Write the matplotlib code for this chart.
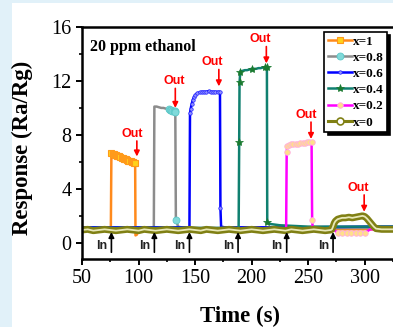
import matplotlib.pyplot as plt
from matplotlib.patches import Rectangle

# ---- data ----
t_x1 = [50, 60, 70, 75.5, 76, 77, 78, 79, 80, 81, 82, 83, 84, 85, 86, 87, 88, 89, 90, 91, 92, 93, 94, 95, 96, 97,
        97.3, 98.5, 100, 120, 160, 200, 250, 300, 325]
r_x1 = [1.0, 1.0, 1.0, 1.0, 6.65, 6.6, 6.55, 6.5, 6.5, 6.45, 6.4, 6.4, 6.35, 6.3, 6.3, 6.25, 6.2, 6.2, 6.15, 6.1, 6.1,
        6.05, 6.0, 6.0, 5.95, 5.9, 0.55, 0.6, 1.0, 1.0, 1.0, 1.0, 1.0, 1.0, 1.0]

t_x08 = [50, 100, 113.5, 114, 116, 118, 120, 122, 124, 126, 127, 128, 129, 130, 131, 132, 132.5, 133, 135, 140, 200,
         250, 300, 325]
r_x08 = [1.1, 1.1, 1.1, 10.1, 10.1, 10.05, 10.0, 10.0, 9.95, 9.9, 9.9, 9.85, 9.85, 9.8, 9.8, 9.75, 9.7, 1.7, 1.2, 1.1,
         1.1, 1.1, 1.1, 1.1]

t_x06 = [50, 100, 145, 145.5, 146, 147, 148, 149, 150, 152, 154, 156, 158, 160, 162, 164, 166, 168, 170, 172, 172.4,
         173, 176, 200, 250, 300, 325]
r_x06 = [1.15, 1.15, 1.15, 9.6, 9.9, 10.3, 10.6, 10.8, 10.95, 11.1, 11.15, 11.2, 11.2, 11.2, 11.25, 11.2, 11.2, 11.2,
         11.2, 11.2, 2.6, 1.2, 1.15, 1.15, 1.15, 1.2, 1.2]

t_x04 = [50, 150, 188.5, 189, 189.3, 190, 192, 194, 196, 198, 200, 202, 204, 206, 208, 210, 212, 213.5, 213.8, 216,
         225, 250, 300, 325]
r_x04 = [1.1, 1.1, 1.1, 7.5, 11.9, 12.7, 12.75, 12.8, 12.8, 12.85, 12.9, 12.9, 12.9, 12.95, 12.95, 13.0, 13.0, 13.05,
         1.55, 1.4, 1.3, 1.2, 1.2, 1.2]

t_x02 = [50, 150, 230.5, 231, 231.5, 233, 235, 237, 239, 241, 243, 245, 247, 249, 251, 253, 253.5, 254, 257, 272,
         276, 280, 284, 288, 292, 296, 300, 305, 325]
r_x02 = [1.0, 1.0, 1.0, 6.7, 7.2, 7.25, 7.3, 7.3, 7.35, 7.35, 7.4, 7.4, 7.4, 7.45, 7.45, 7.5, 1.7, 1.1, 1.0, 1.0,
         0.75, 0.7, 0.75, 0.7, 0.75, 0.7, 0.75, 1.0, 1.0]

t_x0 = [50, 55, 60, 65, 70, 75, 80, 85, 90, 95, 100, 105, 110, 115, 120, 125, 130, 135, 140, 145, 150, 155, 160, 165,
        170, 175, 180, 185, 190, 195, 200, 205, 210, 215, 220, 225, 230, 235, 240, 245, 250, 255, 260, 265, 270, 271,
        272, 273, 274, 276, 278, 280, 283, 286, 289, 292, 295, 298, 300, 302, 304, 306, 308, 310, 315, 320, 325]
r_x0 = [0.95, 1.0, 0.9, 0.95, 1.0, 0.95, 0.9, 0.95, 1.0, 0.95, 0.9, 1.0, 0.95, 0.9, 0.95, 1.0, 0.95, 0.9, 0.95, 1.0,
        0.95, 0.9, 1.0, 0.95, 0.9, 0.95, 1.0, 0.95, 0.9, 0.95, 1.0, 0.95, 0.9, 0.95, 1.0, 0.95, 0.9, 1.0, 0.95, 0.9,
        0.95, 1.0, 0.95, 0.9, 0.95, 1.0, 1.2, 1.45, 1.6, 1.75, 1.8, 1.85, 1.85, 1.9, 1.85, 1.9, 1.95, 2.0, 1.95, 1.8,
        1.6, 1.4, 1.2, 1.05, 1.0, 1.0, 1.0]

labels = ["x=1", "x=0.8", "x=0.6", "x=0.4", "x=0.2", "x=0"]

in_x = [76, 114, 145, 188, 231, 272]
out_arrow_x = [98.5, 132.5, 171, 213, 252.5, 299.5]
out_tip_y = [6.4, 10.0, 11.6, 13.3, 7.7, 2.3]
out_text_x = [94.5, 131.5, 165, 208, 248, 294]
out_text_y = [8.1, 12.0, 13.4, 15.1, 9.5, 4.1]

olive = "#808014"

# ---- figure ----
fig = plt.figure(figsize=(3.93, 3.27), dpi=100, facecolor="#E1F1F9")
fig.add_artist(Rectangle((12 / 393, 0), 1, 1 - 3 / 327, transform=fig.transFigure,
                         facecolor="white", edgecolor="none", zorder=-5))
ax = fig.add_axes([82 / 393, 1 - 259 / 327, 311 / 393, 232 / 327])

ax.plot(t_x1, r_x1, color="#FF8A1C", lw=1.8, marker="s", ms=5, mfc="#FFD21A", mec="#FF9A1A", mew=0.8,
        markevery=list(range(4, 26)), label=labels[0])
ax.plot(t_x08, r_x08, color="#8C8C8C", lw=1.8, marker="o", ms=5, mfc="#80DADA", mec="#5CC8C8", mew=0.6,
        markevery=list(range(10, 18)), label=labels[1])
ax.plot(t_x06, r_x06, color="#0000FF", lw=1.8, marker="o", ms=2.5, mfc="#9090FF", mec="#2020FF", mew=0.5,
        markevery=list(range(3, 21)), label=labels[2])
ax.plot(t_x04, r_x04, color="#108070", lw=1.8, marker="*", ms=6, mfc="#1A7A30", mec="#1A7A30", mew=0.5,
        markevery=[3, 4, 5, 10, 16, 17, 18], label=labels[3])
ax.plot(t_x02, r_x02, color="#FF00FF", lw=1.8, marker="o", ms=4, mfc="#FFE08A", mec="#FFB0E0", mew=0.6,
        markevery=list(range(3, 17)) + list(range(20, 27)), label=labels[4])
ax.plot(t_x0, r_x0, color=olive, lw=5, solid_joinstyle="round")
ax.plot(t_x0, r_x0, color="#E8E8B8", lw=1.3)
ax.plot([], [], color=olive, lw=2.2, marker="o", ms=5, mfc="white", mec=olive, mew=1.2, label=labels[5])

for x in in_x:
    ax.annotate("", xy=(x, 0.8), xytext=(x, -0.7),
                arrowprops=dict(arrowstyle="-|>", color="black", lw=1.2, mutation_scale=8, shrinkA=0, shrinkB=0))
    ax.text(x - 3.5, -0.2, "In", ha="right", va="center", fontsize=9, fontweight="bold",
            family="Liberation Sans", color="#222222")

for ax_x, tip, tx, ty in zip(out_arrow_x, out_tip_y, out_text_x, out_text_y):
    ax.annotate("", xy=(ax_x, tip), xytext=(ax_x, ty - 0.55),
                arrowprops=dict(arrowstyle="-|>", color="red", lw=1.2, mutation_scale=8, shrinkA=0, shrinkB=0))
    ax.text(tx, ty, "Out", ha="center", va="center", fontsize=9, fontweight="bold",
            family="Liberation Sans", color="red")

ax.text(57, 14.5, "20 ppm ethanol", fontsize=11.5, fontweight="bold", family="Liberation Serif", va="center")

ax.set_xlim(50, 325)
ax.set_ylim(-1.2, 16)
ax.set_xticks([50, 100, 150, 200, 250, 300])
ax.set_xticks([75, 125, 175, 225, 275, 325], minor=True)
ax.set_yticks([0, 4, 8, 12, 16])
ax.set_yticks([2, 6, 10, 14], minor=True)
ax.tick_params(which="major", direction="out", length=4.5, width=1.4, labelsize=14.5, pad=3)
ax.tick_params(which="minor", direction="out", length=2.5, width=1.2)
for lab in ax.get_xticklabels() + ax.get_yticklabels():
    lab.set_family("Liberation Serif")
for s in ["left", "bottom", "top"]:
    ax.spines[s].set_linewidth(1.8)
ax.spines["right"].set_visible(False)

fig.text(22 / 393, 1 - 148 / 327, "Response (Ra/Rg)", rotation=90, ha="center", va="center",
         fontsize=16.5, fontweight="bold", family="Liberation Serif")
fig.text(240 / 393, 1 - 316 / 327, "Time (s)", ha="center", va="center",
         fontsize=16.5, fontweight="bold", family="Liberation Serif")

leg = ax.legend(loc="upper right", bbox_to_anchor=(387 / 393, 1 - 32 / 327), bbox_transform=fig.transFigure,
                borderaxespad=0, fancybox=False, shadow={"color": "black", "alpha": 1, "ox": 2.5, "oy": -2.5},
                prop={"family": "Liberation Serif", "weight": "bold", "size": 9.5},
                handlelength=1.8, handletextpad=0.1, labelspacing=0.3, borderpad=0.25, framealpha=1)
leg.get_frame().set_edgecolor("black")
leg.get_frame().set_linewidth(1.2)

fig.savefig("out.png", dpi=100, facecolor=fig.get_facecolor())
